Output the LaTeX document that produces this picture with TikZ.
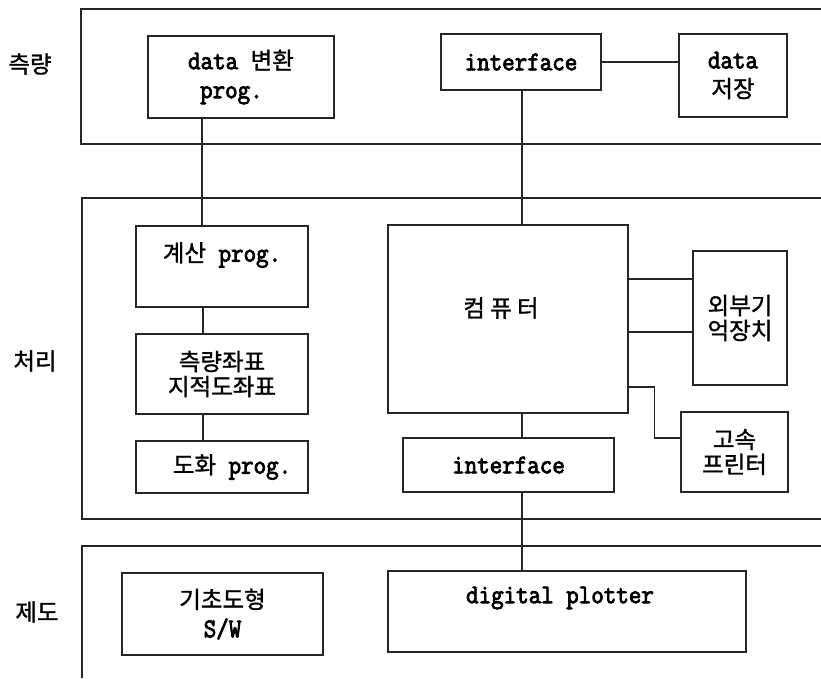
\documentclass[tikz,border=0pt]{standalone}
\usepackage{fontspec}
\setmainfont{Latin Modern Mono}[FakeStretch=0.9, FakeBold=3]
\newfontfamily\kr{Noto Sans CJK KR}[FakeBold=1.2]
\newcommand\K[1]{{\kr\fontsize{23.5}{25}\selectfont #1}}
\tikzset{
  frame/.style={line width=1.2pt, draw=black!85},
  box/.style={draw=black!85, line width=1.2pt, inner sep=0pt, align=center,
              font=\fontsize{27}{29}\selectfont},
  krbox/.style={box, font=\fontsize{27}{25}\selectfont},
  lbl/.style={inner sep=0pt, align=center, font=\fontsize{27}{29}\selectfont},
  link/.style={line width=1.1pt, draw=black!85}
}
\begin{document}
\begin{tikzpicture}[x=1pt, y=-1pt]
\useasboundingbox (0,0) rectangle (821,678);

% layer frames, open to the right
\draw[frame] (821,9) -- (81,9) -- (81,144) -- (821,144);
\draw[frame] (821,198) -- (82,198) -- (82,519) -- (821,519);
\draw[frame] (821,546) -- (82,546) -- (82,678);

% layer names
\node[lbl] (l1) at (30,64) {\K{측량}};
\node[lbl] (l2) at (35,361) {\K{처리}};
\node[lbl] (l3) at (37,612) {\K{제도}};

% survey layer
\node[box, minimum width=186pt, minimum height=82pt, align=left] (dconv) at (241,77)
  {data \K{변환}\\\hspace*{12pt}prog.};
\node[box, minimum width=160pt, minimum height=56pt] (if1) at (521,62) {interface};
\node[box, minimum width=108pt, minimum height=83pt] (dstore) at (733,75.5)
  {data\\\K{저장}};

% processing layer
\node[box, minimum width=172pt, minimum height=81pt] (calc) at (222,266.5) {};
\node[lbl] (calctxt) at (222,255) {\K{계산} prog.};
\node[krbox, minimum width=172pt, minimum height=80pt] (coord) at (222,374)
  {\K{측량좌표}\\\K{지적도좌표}};
\node[box, minimum width=172pt, minimum height=52pt] (plotprog) at (222,467)
  {\hspace*{20pt}\K{도화} prog.};
\node[box, minimum width=240pt, minimum height=188pt] (comp) at (508,319) {};
\node[lbl] (comptxt) at (501,308) {\K{컴 퓨 터}};
\node[krbox, minimum width=94pt, minimum height=134pt] (ext) at (740,318)
  {\K{외부기}\\\K{억장치}};
\node[krbox, minimum width=107pt, minimum height=80pt] (prt) at (734.5,452)
  {\K{고속}\\\K{프린터}};
\node[box, minimum width=211pt, minimum height=54pt] (if2) at (508.5,465) {interface};

% drafting layer
\node[box, minimum width=201pt, minimum height=82pt] (basic) at (222.5,614)
  {\K{기초도형}\\S/W};
\node[box, minimum width=358pt, minimum height=81pt] (plot) at (567,611.5) {};
\node[lbl] (plottxt) at (560,598) {digital plotter};

% connections
\draw[link] ([xshift=-39pt]dconv.south) -- ([xshift=-39pt]dconv.south |- calc.north);
\draw[link] ([xshift=-19pt]calc.south) -- ([xshift=-19pt]calc.south |- coord.north);
\draw[link] ([xshift=-19pt]coord.south) -- ([xshift=-19pt]coord.south |- plotprog.north);
\draw[link] (if1.east) -- (if1.east -| dstore.west);
\draw[link] ([xshift=1pt]if1.south) -- ([xshift=1pt]if1.south |- comp.north);
\draw[link] ([yshift=40pt]comp.east) -- ([yshift=40pt]comp.east -| ext.west);
\draw[link] ([yshift=-13pt]comp.east) -- ([yshift=-13pt]comp.east -| ext.west);
\draw[link] ([yshift=-68pt]comp.east) -- ++(26pt,0) |- ([yshift=14pt]prt.west);
\draw[link] ([xshift=14pt]comp.south) -- ([xshift=14pt]comp.south |- if2.north);
\draw[link] ([xshift=13.5pt]if2.south) -- ([xshift=13.5pt]if2.south |- plot.north);
\end{tikzpicture}
\end{document}
